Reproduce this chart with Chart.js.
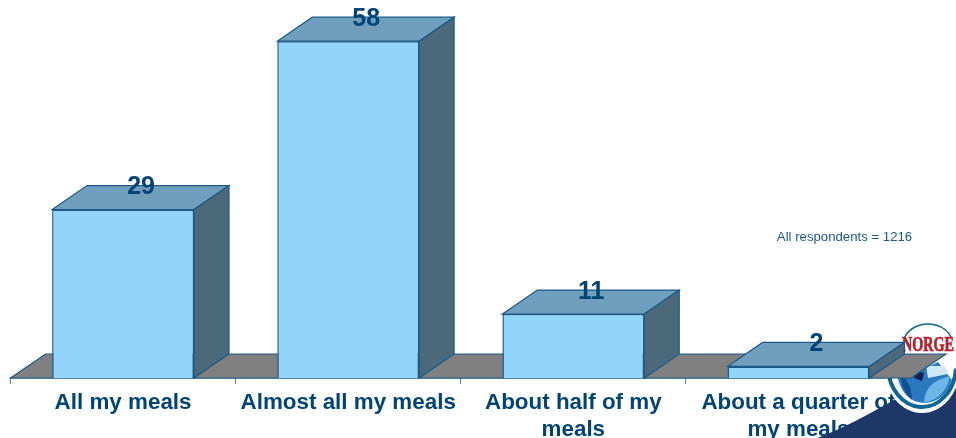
<!DOCTYPE html>
<html>
<head>
<meta charset="utf-8">
<script src="https://cdn.jsdelivr.net/npm/chart.js@4/dist/chart.umd.js"></script>
<style>
  html, body { margin: 0; padding: 0; background: #fff; overflow: hidden; }
  #wrap { position: relative; width: 956px; height: 438px; }
</style>
</head>
<body>
<div id="wrap"><canvas id="chart" width="956" height="438"></canvas></div>
<script>
const categories = [
  "All my meals",
  "Almost all my meals",
  ["About half of my", "meals"],
  ["About a quarter of", "my meals"],
];
const shares = [29, 58, 11, 2];
const note = "All respondents = 1216";
const logoText = "NORGE";

const depthX = 35;
const depthY = 24;
const navy = "#004475";
const edge = "#1B5A86";

function poly(ctx, pts, fill, stroke) {
  ctx.beginPath();
  pts.forEach((p, i) => (i ? ctx.lineTo(p[0], p[1]) : ctx.moveTo(p[0], p[1])));
  ctx.closePath();
  ctx.fillStyle = fill;
  ctx.fill();
  if (stroke) {
    ctx.strokeStyle = stroke;
    ctx.lineWidth = 1.2;
    ctx.stroke();
  }
}

// logo and corner sit over the tick labels but under the floor and bars
function drawLogo(ctx) {
  ctx.save();
  ctx.beginPath();
  ctx.moveTo(817, 438);
  ctx.quadraticCurveTo(862, 422, 956, 362);
  ctx.lineTo(956, 438);
  ctx.closePath();
  ctx.fillStyle = "#1C3768";
  ctx.fill();

  ctx.beginPath();
  ctx.ellipse(922, 367, 38, 46, 0, 0, Math.PI * 2);
  ctx.fillStyle = "#fff";
  ctx.fill();

  // ring, thick at the bottom and thin over the top
  ctx.strokeStyle = "#0F6595";
  ctx.lineWidth = 4;
  ctx.beginPath();
  ctx.ellipse(922, 366, 34, 41, 0, 0.02 * Math.PI, 0.98 * Math.PI);
  ctx.stroke();
  ctx.lineWidth = 1.5;
  ctx.beginPath();
  ctx.ellipse(928, 345, 25, 21, 0, 1.1 * Math.PI, 1.9 * Math.PI);
  ctx.stroke();

  // wave picture inside the ring
  ctx.beginPath();
  ctx.moveTo(897, 374);
  ctx.quadraticCurveTo(902, 402, 924, 403);
  ctx.quadraticCurveTo(945, 402, 952, 380);
  ctx.lineTo(938, 362);
  ctx.lineTo(918, 372);
  ctx.closePath();
  ctx.fillStyle = "#2A78BE";
  ctx.fill();
  ctx.beginPath();
  ctx.moveTo(924, 403);
  ctx.quadraticCurveTo(924, 382, 950, 376);
  ctx.quadraticCurveTo(946, 398, 924, 403);
  ctx.fillStyle = "#6DB7E6";
  ctx.fill();
  ctx.beginPath();
  ctx.moveTo(912, 400);
  ctx.quadraticCurveTo(900, 388, 901, 374);
  ctx.quadraticCurveTo(912, 384, 912, 400);
  ctx.fillStyle = "#0F4E95";
  ctx.fill();
  poly(ctx, [[916, 371], [924, 373], [922, 381], [914, 378]], "#12204F");
  poly(ctx, [[926, 366], [945, 366], [948, 374], [928, 378]], "#CFE8F6");

  ctx.font = "bold 20px 'Liberation Serif'";
  ctx.fillStyle = "#B5202E";
  ctx.strokeStyle = "#B5202E";
  ctx.lineWidth = 0.7;
  ctx.textAlign = "center";
  ctx.textBaseline = "middle";
  ctx.fillText(logoText, 928, 346, 52);
  ctx.strokeText(logoText, 928, 346, 52);
  ctx.restore();
}

// the 3d floor, top faces and side faces hang off the bar positions
const depthPlugin = {
  id: "depth",
  beforeDatasetsDraw(chart) {
    const { ctx, chartArea: a } = chart;
    drawLogo(ctx);
    poly(ctx, [
      [a.left, a.bottom],
      [a.left + depthX, a.bottom - depthY],
      [a.right + depthX, a.bottom - depthY],
      [a.right, a.bottom],
    ], "#808080", edge);
    chart.getDatasetMeta(0).data.forEach((bar) => {
      const l = bar.x - bar.width / 2;
      const r = bar.x + bar.width / 2;
      poly(ctx, [[l, bar.y], [l + depthX, bar.y - depthY], [r + depthX, bar.y - depthY], [r, bar.y]], "#709FBD", edge);
      poly(ctx, [[r, bar.y], [r + depthX, bar.y - depthY], [r + depthX, bar.base - depthY], [r, bar.base]], "#4C697B", edge);
    });
  },
  afterDatasetsDraw(chart) {
    const { ctx } = chart;
    ctx.save();
    ctx.font = "bold 25px 'Liberation Sans'";
    ctx.fillStyle = navy;
    ctx.textAlign = "center";
    ctx.textBaseline = "middle";
    chart.getDatasetMeta(0).data.forEach((bar, i) => {
      ctx.fillText(String(shares[i]), bar.x + depthX / 2 + 0.5, bar.y - depthY + 2);
    });
    ctx.font = "13.2px 'Liberation Sans'";
    ctx.fillStyle = edge;
    ctx.fillText(note, 844.5, 237);
    ctx.restore();
  },
};

new Chart(document.getElementById("chart"), {
  type: "bar",
  data: {
    labels: categories,
    datasets: [
      {
        data: shares,
        backgroundColor: "#93D4FA",
        borderColor: edge,
        borderWidth: 1.5,
        barPercentage: 0.63,
        categoryPercentage: 1,
      },
    ],
  },
  options: {
    responsive: false,
    animation: false,
    layout: { padding: { left: 10.5, right: 45, top: 0.5, bottom: 0 } },
    plugins: { legend: { display: false }, tooltip: { enabled: false } },
    scales: {
      x: {
        afterFit(scale) {
          scale.height = 60;
        },
        border: { color: edge, width: 1.5 },
        grid: { drawOnChartArea: false, color: "#5C87A6", tickLength: 6 },
        ticks: {
          autoSkip: false,
          maxRotation: 0,
          minRotation: 0,
          padding: 6,
          color: navy,
          font: { family: "'Liberation Sans'", size: 22.4, weight: "bold", lineHeight: 1.18 },
        },
      },
      y: { display: false, min: 0, max: 65 },
    },
  },
  plugins: [depthPlugin],
});
</script>
</body>
</html>
